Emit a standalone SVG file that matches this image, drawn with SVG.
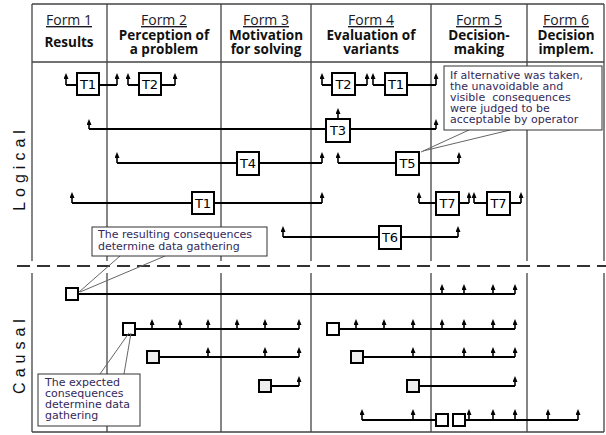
<svg xmlns="http://www.w3.org/2000/svg" width="606" height="435" viewBox="0 0 606 435">
<style>
.frame{stroke:#444;stroke-width:1.3;fill:none}
.dash{stroke:#333;stroke-width:2;stroke-dasharray:13 7;fill:none}
.conn{stroke:#000;stroke-width:2;fill:none}
.arr{stroke:#000;stroke-width:1.6;fill:none;marker-end:url(#ah)}
.box{fill:#fff;stroke:#000;stroke-width:2}
.sq{fill:#fff;stroke:#000;stroke-width:2}
.sqg{fill:#eee;stroke:#000;stroke-width:2}
.lbl{font-family:"DejaVu Sans",sans-serif;font-size:13px;fill:#000;text-anchor:middle}
.form{font-family:"Open Sans","Liberation Sans",sans-serif;font-size:14px;fill:#1a1a2a;text-anchor:middle;text-decoration:underline}
.hd{font-family:"Open Sans","Liberation Sans",sans-serif;font-size:13.5px;font-weight:bold;fill:#111;text-anchor:middle}
.side{font-family:"Liberation Sans",sans-serif;font-size:16px;fill:#111;text-anchor:middle;letter-spacing:5px}
.cbox{fill:#fff;stroke:#333;stroke-width:1}
.ptr{stroke:#666;stroke-width:1;fill:none}
.ct{font-family:"DejaVu Sans",sans-serif;font-size:11px;fill:#33295a}
</style>
<defs>
<marker id="ah" markerUnits="userSpaceOnUse" markerWidth="6" markerHeight="5" viewBox="0 0 6 5" refX="2" refY="2.5" orient="auto">
<path d="M0,0 L6,2.5 L0,5 z" fill="#000"/>
</marker>
</defs>

<g id="grid">
<path class="frame" d="M32,4 H604 M32,62 H604 M32,432 H604"/>
<path class="frame" d="M32,4 V261 M32,273 V432 M604,4 V261 M604,273 V432"/>
<path class="frame" d="M107,4 V261 M107,273 V432 M221,4 V261 M221,273 V432 M311,4 V261 M311,273 V432 M431,4 V261 M431,273 V432 M527,4 V261 M527,273 V432"/>
<path class="dash" d="M17,266 H606"/>
</g>

<g id="header">
<text class="form" x="69" y="25">Form 1</text>
<text class="hd" x="69" y="47">Results</text>
<text class="form" x="164" y="25">Form 2</text>
<text class="hd" x="164" y="40">Perception of</text>
<text class="hd" x="164" y="54">a problem</text>
<text class="form" x="266" y="25">Form 3</text>
<text class="hd" x="266" y="40">Motivation</text>
<text class="hd" x="266" y="54">for solving</text>
<text class="form" x="371" y="25">Form 4</text>
<text class="hd" x="371" y="40">Evaluation of</text>
<text class="hd" x="371" y="54">variants</text>
<text class="form" x="479" y="25">Form 5</text>
<text class="hd" x="479" y="40">Decision-</text>
<text class="hd" x="479" y="54">making</text>
<text class="form" x="566" y="25">Form 6</text>
<text class="hd" x="566" y="40">Decision</text>
<text class="hd" x="566" y="54">implem.</text>
</g>

<g id="side-labels">
<text class="side" transform="translate(25,168) rotate(-90)">Logical</text>
<text class="side" transform="translate(25,354) rotate(-90)">Causal</text>
</g>

<g id="connectors">
<path class="conn" d="M77,85 H66 M99,85 H117 M139,85 H128 M161,85 H175 M332,85 H322 M355,85 H367 M385,85 H373 M407,85 H436"/>
<path class="arr" d="M66,85 V77"/><path class="arr" d="M117,85 V77"/><path class="arr" d="M128,85 V77"/><path class="arr" d="M175,85 V77"/>
<path class="arr" d="M322,85 V77"/><path class="arr" d="M367,85 V77"/><path class="arr" d="M373,85 V77"/><path class="arr" d="M436,85 V77"/>
<path class="conn" d="M326,129 H89 M350,129 H436"/>
<path class="arr" d="M89,129 V123"/><path class="arr" d="M436,129 V123"/><path class="arr" d="M338,119 V112"/>
<path class="conn" d="M237,163 H117 M259,163 H322 M396,163 H338 M419,163 H459"/>
<path class="arr" d="M117,163 V156"/><path class="arr" d="M322,163 V156"/><path class="arr" d="M338,163 V156"/><path class="arr" d="M459,163 V156"/>
<path class="conn" d="M192,203 H72 M214,203 H322 M436,203 H419 M459,203 H469 M487,203 H474 M510,203 H521"/>
<path class="arr" d="M72,203 V196"/><path class="arr" d="M322,203 V196"/><path class="arr" d="M419,203 V196"/><path class="arr" d="M469,203 V196"/><path class="arr" d="M474,203 V196"/><path class="arr" d="M521,203 V196"/>
<path class="conn" d="M379,237 H283 M401,237 H458"/>
<path class="arr" d="M283,237 V230"/><path class="arr" d="M458,237 V230"/>
<path class="conn" d="M78,294 H515"/>
<path class="arr" d="M442,294 V288"/><path class="arr" d="M464,294 V288"/><path class="arr" d="M493,294 V288"/><path class="arr" d="M515,294 V288"/>
<path class="conn" d="M135,329 H299 M339,329 H515"/>
<path class="arr" d="M152,329 V323"/><path class="arr" d="M180,329 V323"/><path class="arr" d="M208,329 V323"/><path class="arr" d="M237,329 V323"/><path class="arr" d="M265,329 V323"/><path class="arr" d="M299,329 V323"/>
<path class="arr" d="M356,329 V323"/><path class="arr" d="M384,329 V323"/><path class="arr" d="M413,329 V323"/><path class="arr" d="M442,329 V323"/><path class="arr" d="M464,329 V323"/><path class="arr" d="M493,329 V323"/><path class="arr" d="M515,329 V323"/>
<path class="conn" d="M159,357 H299 M363,357 H515"/>
<path class="arr" d="M208,357 V351"/><path class="arr" d="M265,357 V351"/><path class="arr" d="M299,357 V351"/><path class="arr" d="M413,357 V351"/><path class="arr" d="M464,357 V351"/><path class="arr" d="M493,357 V351"/><path class="arr" d="M515,357 V351"/>
<path class="conn" d="M271,386 H299 M419,386 H515"/>
<path class="arr" d="M299,386 V380"/><path class="arr" d="M515,386 V380"/>
<path class="conn" d="M436,420 H362 M464,420 H578"/>
<path class="arr" d="M362,420 V413"/><path class="arr" d="M413,420 V413"/><path class="arr" d="M469,420 V413"/><path class="arr" d="M493,420 V413"/><path class="arr" d="M515,420 V413"/><path class="arr" d="M548,420 V413"/><path class="arr" d="M578,420 V413"/>
</g>

<g id="n-T1a"><rect class="box" x="77" y="73" width="22" height="22"/><text class="lbl" x="88" y="89">T1</text></g>
<g id="n-T2a"><rect class="box" x="139" y="73" width="22" height="22"/><text class="lbl" x="150" y="89">T2</text></g>
<g id="n-T2b"><rect class="box" x="332" y="73" width="23" height="22"/><text class="lbl" x="343.5" y="89">T2</text></g>
<g id="n-T1b"><rect class="box" x="385" y="73" width="22" height="22"/><text class="lbl" x="396" y="89">T1</text></g>
<g id="n-T3"><rect class="box" x="326" y="119" width="24" height="23"/><text class="lbl" x="338" y="135">T3</text></g>
<g id="n-T4"><rect class="box" x="237" y="152" width="22" height="23"/><text class="lbl" x="248" y="168">T4</text></g>
<g id="n-T5"><rect class="box" x="396" y="152" width="23" height="23"/><text class="lbl" x="407.5" y="168">T5</text></g>
<g id="n-T1c"><rect class="box" x="192" y="192" width="22" height="22"/><text class="lbl" x="203" y="208">T1</text></g>
<g id="n-T7a"><rect class="box" x="436" y="192" width="23" height="23"/><text class="lbl" x="447.5" y="208">T7</text></g>
<g id="n-T7b"><rect class="box" x="487" y="192" width="23" height="23"/><text class="lbl" x="498.5" y="208">T7</text></g>
<g id="n-T6"><rect class="box" x="379" y="226" width="22" height="23"/><text class="lbl" x="390" y="242">T6</text></g>

<g id="n-S1"><rect class="sq" x="66" y="288" width="12" height="12"/></g>
<g id="n-S2a"><rect class="sq" x="123" y="323" width="12" height="12"/></g>
<g id="n-S2b"><rect class="sq" x="327" y="323" width="12" height="12"/></g>
<g id="n-S3a"><rect class="sqg" x="147" y="351" width="12" height="12"/></g>
<g id="n-S3b"><rect class="sqg" x="351" y="351" width="12" height="12"/></g>
<g id="n-S4a"><rect class="sqg" x="259" y="380" width="12" height="12"/></g>
<g id="n-S4b"><rect class="sqg" x="407" y="380" width="12" height="12"/></g>
<g id="n-S5a"><rect class="sq" x="436" y="414" width="12" height="12"/></g>
<g id="n-S5b"><rect class="sq" x="453" y="414" width="12" height="12"/></g>

<g id="callout-alternative">
<path class="ptr" d="M469,130 L421,152 M510,130 L423,151"/>
<rect class="cbox" x="444" y="66" width="158" height="64"/>
<text class="ct" x="450" y="79">If alternative was taken,</text>
<text class="ct" x="450" y="90">the unavoidable and</text>
<text class="ct" x="450" y="101" xml:space="preserve">visible  consequences</text>
<text class="ct" x="450" y="112">were judged to be</text>
<text class="ct" x="450" y="123">acceptable by operator</text>
</g>

<g id="callout-resulting">
<path class="ptr" d="M120,256 L79,292 M165,256 L80,292"/>
<rect class="cbox" x="92" y="227" width="175" height="29"/>
<text class="ct" x="98" y="238">The resulting consequences</text>
<text class="ct" x="98" y="250">determine data gathering</text>
</g>

<g id="callout-expected">
<path class="ptr" d="M100,374 L129,333 M124,374 L131,333"/>
<rect class="cbox" x="38" y="374" width="102" height="52"/>
<text class="ct" x="45" y="386">The expected</text>
<text class="ct" x="45" y="397">consequences</text>
<text class="ct" x="45" y="408">determine data</text>
<text class="ct" x="45" y="419">gathering</text>
</g>
</svg>
